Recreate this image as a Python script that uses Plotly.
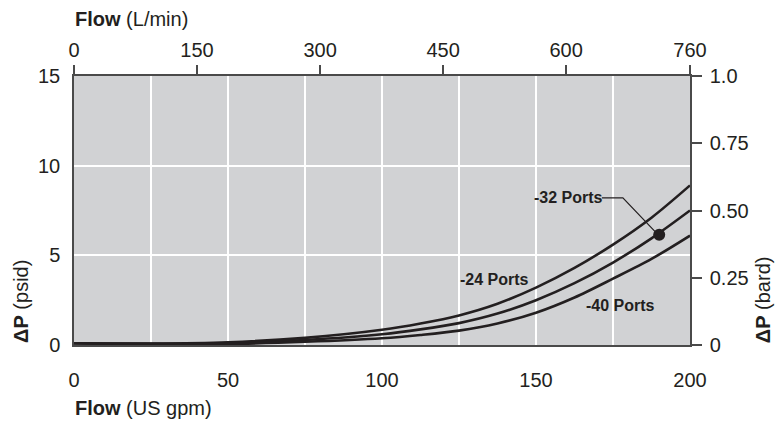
import plotly.graph_objects as go

# ---- data ----
flow_gpm = [0, 25, 50, 75, 100, 112.5, 125, 137.5, 150, 162.5, 175, 187.5, 200]
dp_24_ports = [0.10, 0.08, 0.15, 0.40, 0.85, 1.20, 1.65, 2.30, 3.20, 4.30, 5.60, 7.10, 8.90]
dp_32_ports = [0.10, 0.06, 0.10, 0.28, 0.60, 0.87, 1.22, 1.75, 2.50, 3.45, 4.60, 5.95, 7.50]
dp_40_ports = [0.10, 0.05, 0.06, 0.18, 0.38, 0.56, 0.80, 1.20, 1.80, 2.65, 3.70, 4.80, 6.10]
series_names = ["-24 Ports", "-32 Ports", "-40 Ports"]

marker_gpm = [190]
marker_psi = [6.15]

bottom_ticks = [0, 50, 100, 150, 200]
left_ticks = [0, 5, 10, 15]
right_tickvals = [0, 0.25, 0.5, 0.75, 1.0]
right_ticktext = ["0", "0.25", "0.50", "0.75", "1.0"]
top_tickvals = [0, 150, 300, 450, 600, 751]
top_ticktext = ["0", "150", "300", "450", "600", "760"]

FONT = "Liberation Sans, Arial, Helvetica, sans-serif"
INK = "#231f20"
AXIS = "#4a4a4a"

fig = go.Figure()
for name, ys in zip(series_names, [dp_24_ports, dp_32_ports, dp_40_ports]):
    fig.add_trace(go.Scatter(x=flow_gpm, y=ys, mode="lines", name=name,
                             line=dict(color=INK, width=2.6, shape="spline", smoothing=0.9),
                             hoverinfo="skip", showlegend=False))
fig.add_trace(go.Scatter(x=marker_gpm, y=marker_psi, mode="markers",
                         marker=dict(color=INK, size=12), showlegend=False, hoverinfo="skip"))
# invisible traces to activate secondary axes
fig.add_trace(go.Scatter(x=[None], y=[None], xaxis="x2", yaxis="y", showlegend=False))
fig.add_trace(go.Scatter(x=[None], y=[None], xaxis="x", yaxis="y2", showlegend=False))

common = dict(automargin=False, zeroline=False, showline=True, linecolor=AXIS, linewidth=1.5,
              tickfont=dict(size=20, color=INK))

# the page body has an 8px margin, so the figure is sized to fit the 783x425 window
fig.update_layout(
    width=775, height=417,
    margin=dict(l=66, r=93, t=68, b=80, autoexpand=False),
    paper_bgcolor="white", plot_bgcolor="#d1d2d4",
    font=dict(family=FONT, size=20, color=INK),
    xaxis=dict(range=[0, 200], tickvals=bottom_ticks, showgrid=True, gridcolor="white", gridwidth=1.5,
               ticks="", ticklabelstandoff=16,
               minor=dict(dtick=25, tick0=0, showgrid=True, gridcolor="white", gridwidth=1.5), **common),
    xaxis2=dict(range=[0, 751], overlaying="x", side="top", tickvals=top_tickvals, ticktext=top_ticktext,
                showgrid=False, ticks="outside", ticklen=9, tickwidth=1.5, tickcolor=AXIS,
                ticklabelstandoff=0, **common),
    yaxis=dict(range=[0, 15], tickvals=left_ticks, showgrid=True, gridcolor="white", gridwidth=1.5,
               ticks="", ticklabelstandoff=8, **common),
    yaxis2=dict(range=[0, 1.0], overlaying="y", side="right", tickvals=right_tickvals, ticktext=right_ticktext,
                showgrid=False, ticks="outside", ticklen=10, tickwidth=1.5, tickcolor=AXIS,
                ticklabelstandoff=4, **common),
)

LBL = dict(family=FONT, size=16, color=INK)
annotations = [
    dict(text="<b>Flow</b> (L/min)", xref="paper", yref="paper", x=-0.002, y=1.212,
         xanchor="left", yanchor="middle", showarrow=False, font=dict(size=20)),
    dict(text="<b>Flow</b> (US gpm)", xref="paper", yref="paper", x=-0.002, y=-0.235,
         xanchor="left", yanchor="middle", showarrow=False, font=dict(size=20)),
    dict(text="<b>ΔP</b> (psid)", xref="paper", yref="paper", x=-0.087, y=0,
         xanchor="center", yanchor="bottom", textangle=-90, showarrow=False, font=dict(size=20)),
    dict(text="<b>ΔP</b> (bard)", xref="paper", yref="paper", x=1.118, y=0,
         xanchor="center", yanchor="bottom", textangle=-90, showarrow=False, font=dict(size=20)),
    dict(text="<b>-24 Ports</b>", x=136.4, y=3.63, xref="x", yref="y", showarrow=False, font=LBL),
    dict(text="<b>-32 Ports</b>", x=148.7, y=8.2, xref="x", yref="y", showarrow=False,
         xanchor="left", font=LBL),
    dict(text="<b>-40 Ports</b>", x=177.3, y=2.2, xref="x", yref="y", showarrow=False, font=LBL),
]
fig.update_layout(annotations=annotations)
fig.add_shape(type="path", path="M 171.4,8.2 L 178.2,8.2 L 189.6,6.15", xref="x", yref="y",
              line=dict(color=INK, width=1.2))

fig.write_html("out.html")
